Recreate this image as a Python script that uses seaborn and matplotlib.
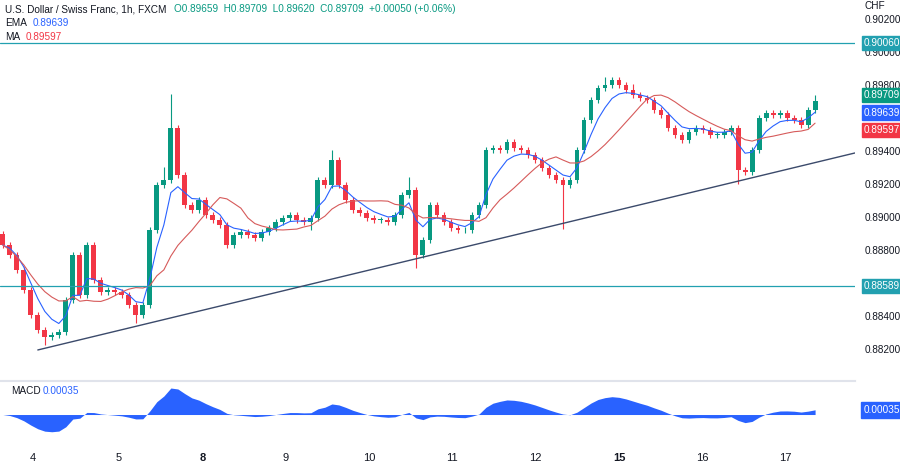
import numpy as np
import pandas as pd
import matplotlib
matplotlib.use("Agg")
import matplotlib.pyplot as plt
import seaborn as sns

closes = [0.88836,0.88776,0.88685,0.88564,0.88412,0.88321,0.88279,0.88291,0.88309,0.88503,
0.88776,0.88533,0.88836,0.88624,0.88552,0.88564,0.88552,0.88533,0.88473,0.88412,
0.88473,0.88927,0.89200,0.89230,0.89545,0.89261,0.89079,0.89048,0.89109,0.89018,
0.88988,0.88958,0.88836,0.88897,0.88915,0.88897,0.88879,0.88915,0.88939,0.88976,
0.89000,0.89018,0.88988,0.88976,0.89000,0.89230,0.89200,0.89351,0.89200,0.89109,
0.89048,0.89030,0.89000,0.88988,0.88988,0.88976,0.89018,0.89139,0.89170,0.88776,
0.88867,0.89079,0.89018,0.88976,0.88939,0.88927,0.88927,0.89018,0.89079,0.89412,
0.89424,0.89412,0.89461,0.89424,0.89412,0.89382,0.89351,0.89303,0.89261,0.89230,
0.89200,0.89230,0.89412,0.89594,0.89715,0.89788,0.89806,0.89836,0.89806,0.89776,
0.89745,0.89727,0.89715,0.89654,0.89624,0.89545,0.89503,0.89473,0.89521,0.89545,
0.89533,0.89503,0.89503,0.89521,0.89545,0.89291,0.89279,0.89412,0.89606,0.89636,
0.89624,0.89636,0.89606,0.89594,0.89564,0.89654,0.89709]
first_open = 0.88900
wick_default = 0.00018
wick_up_extra = {24: 0.00190, 23: 0.00060, 47: 0.00040, 58: 0.00060, 86: 0.00030, 90: 0.00020, 116: 0.00020}
wick_dn_extra = {59: 0.00060, 80: 0.00250, 105: 0.00070, 6: 0.00030, 19: 0.00030, 44: 0.00030}
day_labels = ["4", "5", "8", "9", "10", "11", "12", "15", "16", "17"]
day_pos = [4.3, 16.6, 28.6, 40.4, 52.3, 64.1, 76.0, 88.0, 99.9, 111.7]
price_ticks = [0.882, 0.884, 0.886, 0.888, 0.890, 0.892, 0.894, 0.896, 0.898, 0.900, 0.902]
hlines = [0.90060, 0.88589]
trend_x = [5.0, 121.7]
trend_y = [0.88200, 0.89394]
tags = [(0.90060, "0.90060", "#22a0b0"), (0.88589, "0.88589", "#22a0b0"),
        (0.89745, "0.89709", "#089981"), (0.89639, "0.89639", "#2962ff"), (0.89533, "0.89597", "#f23645")]

GREEN, RED, BLUE, TEAL = "#089981", "#f23645", "#2962ff", "#22a0b0"
FS = 7.2
sns.set_style("white")
plt.rcParams["font.family"] = "Liberation Sans"
n = len(closes)
idx = np.arange(n)
opens = [first_open] + closes[:-1]
highs = [max(o, c) + wick_default + wick_up_extra.get(i, 0) for i, (o, c) in enumerate(zip(opens, closes))]
lows = [min(o, c) - wick_default - wick_dn_extra.get(i, 0) for i, (o, c) in enumerate(zip(opens, closes))]
s = pd.Series(closes)
df = pd.DataFrame({"i": idx, "ema": s.ewm(span=5, adjust=False).mean(), "ma": s.rolling(11, min_periods=1).mean()})
macd = s.ewm(span=6, adjust=False).mean() - s.ewm(span=13, adjust=False).mean()

fig = plt.figure(figsize=(9, 4.66), dpi=100)
W, H = 900, 466
ax = fig.add_axes([0, 1 - 380 / H, 855 / W, 380 / H])
axm = fig.add_axes([0, 1 - 445 / H, 855 / W, 64 / H], sharex=ax)
ax.set_xlim(-0.4, 121.7)
ax.set_ylim(0.88018, 0.90321)
for i in range(n):
    col = GREEN if closes[i] >= opens[i] else RED
    ax.vlines(i, lows[i], highs[i], color=col, lw=0.8)
    b0, b1 = sorted([opens[i], closes[i]])
    ax.bar(i, max(b1 - b0, 0.00003), bottom=b0, width=0.7, color=col, lw=0)
sns.lineplot(data=df, x="i", y="ema", ax=ax, color=BLUE, lw=0.8)
sns.lineplot(data=df, x="i", y="ma", ax=ax, color="#d65a5a", lw=0.8)
for h in hlines:
    ax.axhline(h, color=TEAL, lw=0.9)
ax.plot(trend_x, trend_y, color="#3b4a6b", lw=1)
ax.set_xlabel(""); ax.set_ylabel("")
ax.set_xticks([]); ax.set_yticks([])
for sp in ax.spines.values():
    sp.set_visible(False)
ax.spines["bottom"].set_visible(True); ax.spines["bottom"].set_color("#e0e3eb")

tag_ys = [t[0] for t in tags]
for p in price_ticks:
    if min(abs(p - ty) for ty in tag_ys) < 0.00045:
        continue
    ax.text(1.0115, p, f"{p:.5f}", transform=ax.get_yaxis_transform(), va="center", ha="left", fontsize=FS, color="#131722", clip_on=False)
ax.text(1.0115, 0.90321 - 0.00005, "CHF", transform=ax.get_yaxis_transform(), va="top", ha="left", fontsize=FS, color="#131722")
for y, txt, col in tags:
    ax.text(1.0105, y, txt, transform=ax.get_yaxis_transform(), va="center", ha="left", fontsize=FS, color="white",
            bbox=dict(boxstyle="square,pad=0.22", fc=col, ec=col))

axm.fill_between(idx, macd.values, 0, color=BLUE, lw=0)
lim = float(np.abs(macd).max()) * 1.15
axm.set_ylim(-lim, lim * 1.1)
axm.set_yticks([])
axm.set_xticks(day_pos)
axm.set_xticklabels(day_labels, fontsize=FS + 0.8, color="#131722")
for lab, t in zip(day_labels, axm.get_xticklabels()):
    if lab in ("8", "15"):
        t.set_fontweight("bold")
axm.tick_params(axis="x", length=0, pad=6)
for sp in axm.spines.values():
    sp.set_visible(False)
axm.spines["top"].set_visible(True); axm.spines["top"].set_color("#e0e3eb")
axm.text(0.013, 0.85, "MACD", transform=axm.transAxes, fontsize=FS, color="#131722", va="center")
axm.text(0.050, 0.85, "0.00035", transform=axm.transAxes, fontsize=FS, color=BLUE, va="center")
axm.text(1.0105, macd.iloc[-1], "0.00035", transform=axm.get_yaxis_transform(), va="center", ha="left", fontsize=FS, color="white",
         bbox=dict(boxstyle="square,pad=0.3", fc=BLUE, ec=BLUE))

fig.text(0.006, 1 - 9 / H, "U.S. Dollar / Swiss Franc, 1h, FXCM", fontsize=FS, color="#131722", va="center")
fig.text(0.193, 1 - 9 / H, "O0.89659  H0.89709  L0.89620  C0.89709  +0.00050 (+0.06%)", fontsize=FS, color=GREEN, va="center")
fig.text(0.006, 1 - 23 / H, "EMA", fontsize=FS, color="#131722", va="center")
fig.text(0.036, 1 - 23 / H, "0.89639", fontsize=FS, color=BLUE, va="center")
fig.text(0.006, 1 - 37 / H, "MA", fontsize=FS, color="#131722", va="center")
fig.text(0.029, 1 - 37 / H, "0.89597", fontsize=FS, color=RED, va="center")
fig.savefig("out.png", dpi=100)
